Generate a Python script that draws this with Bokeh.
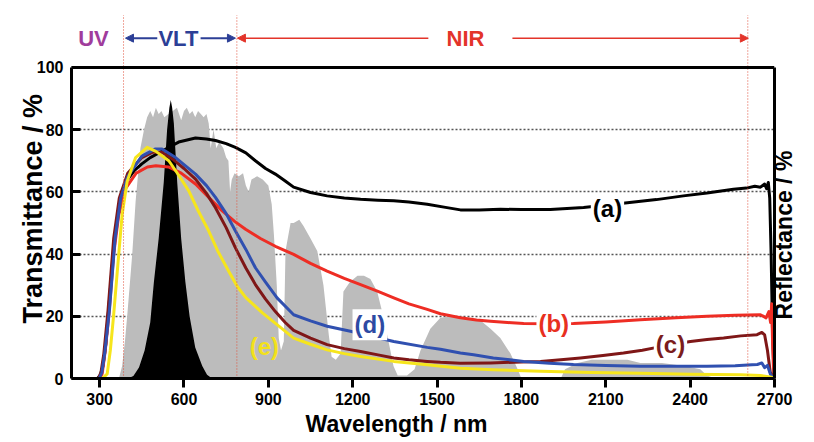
import math

from bokeh.plotting import figure
from bokeh.models import (Range1d, FixedTicker, Label, Arrow, NormalHead, Span,
                          LinearAxis)
from bokeh.embed import file_html
from bokeh.resources import INLINE

# ---- data -------------------------------------------------------------
# Solar irradiance (scaled, grey background)
solar_nm = [200, 350, 370, 380, 390, 398, 407, 416, 428, 445, 458, 469, 480, 490,
            500, 510, 520, 530, 545, 560, 575, 590, 600, 610, 620, 630, 640, 650,
            660, 670, 680, 688, 695, 705, 715, 725, 740, 750, 758, 764, 770, 780,
            795, 810, 820, 830, 840, 860, 880, 900, 912, 920, 930, 937, 945, 955,
            961, 979, 990, 1010, 1025, 1050, 1074, 1096, 1115, 1125, 1140, 1157,
            1167, 1190, 1217, 1240, 1263, 1287, 1310, 1334, 1345, 1360, 1393, 1420,
            1441, 1476, 1512, 1550, 1600, 1650, 1690, 1725, 1761, 1785, 1800, 1940,
            1955, 2000, 2050, 2100, 2177, 2223, 2300, 2380, 2436, 2460, 2490, 2700]
solar = [0, 0, 0.5, 4, 12, 20, 30, 40, 57, 74, 80, 84, 86, 84,
         87, 85, 86, 84, 85, 86, 87, 83, 86, 87, 85, 86, 84, 86,
         85, 84, 85, 82, 74, 80, 74, 76, 74, 71, 70, 60, 64, 66,
         65, 66, 62, 60, 64, 65, 64, 62, 56, 46, 30, 13, 9, 12,
         41, 50, 50, 51, 49, 45, 41, 30, 14, 7, 6, 8,
         28, 31, 33, 33, 32, 28, 19.5, 9, 4, 1, 1, 3,
         9, 16, 19.5, 20, 19.5, 19, 16, 13, 8, 3.3, 0, 0,
         3, 5, 6, 6, 6, 5, 5, 4, 3, 1, 0, 0]

# Photopic eye sensitivity (scaled, black peak)
vis_nm = [400, 420, 440, 460, 480, 493, 510, 528, 540, 548, 553, 558, 564,
          576, 590, 605, 620, 640, 665, 682, 700]
vis = [0, 0.8, 3.5, 9, 18, 31, 45, 63, 80, 87, 89.5, 87, 82,
       63, 45, 31, 20, 10, 4, 1.2, 0]

# (a)
a_nm = [200, 292, 302, 312, 322, 332, 342, 352, 362, 372, 385, 400, 425, 450,
        480, 510, 550, 581, 641, 680, 712, 750, 783, 820, 854, 890, 925, 960,
        990, 1050, 1109, 1170, 1228, 1290, 1346, 1400, 1465, 1530, 1583, 1650,
        1725, 1800, 1903, 2021, 2177, 2280, 2376, 2460, 2554, 2600, 2630, 2650,
        2665, 2672, 2678, 2683, 2688, 2693, 2698, 2700]
a_t = [0, 0, 1, 4, 11, 22, 33, 43, 51, 57, 61, 64, 67, 69,
       71, 72.5, 74.5, 76, 77.3, 77, 76.5, 75.5, 74.3, 72.5, 70, 67.5, 65.7, 63.5,
       61.5, 59.8, 58.7, 58, 57.6, 57.3, 57.1, 56.7, 56, 55, 54.2, 54.2,
       54.4, 54.3, 54.3, 55, 56.5, 57.5, 58.7, 59.6, 60.8, 61.2, 61.8, 61.5,
       62.5, 61, 63, 58, 40, 15, 2, 0]

# (b)
b_nm = [200, 300, 309, 320, 333, 350, 368, 392, 430, 470, 500, 545, 590, 641,
        690, 736, 780, 819, 872, 925, 990, 1050, 1109, 1170, 1228, 1290, 1346,
        1400, 1465, 1512, 1583, 1640, 1690, 1750, 1808, 1900, 1985, 2100, 2223,
        2350, 2460, 2560, 2650, 2670, 2680, 2686, 2690, 2693, 2696, 2700]
b_t = [0, 0, 1.5, 9, 20.5, 40, 52.6, 61, 66, 68, 68.4, 68, 66, 62.5,
       58, 53.9, 50.5, 48, 45, 42.5, 39.9, 37, 34.5, 32.2, 30.2, 28, 25.9,
       24, 22.2, 20.8, 19.5, 18.8, 18.4, 18, 17.7, 17.6, 17.7, 18.2, 18.9,
       19.5, 20, 20.3, 20.5, 19.5, 21.5, 18, 24, 12, 4, 0]

# (c)
c_nm = [200, 295, 305, 315, 330, 350, 370, 400, 450, 487, 522, 560, 600, 641,
        680, 712, 750, 783, 820, 854, 890, 925, 960, 990, 1050, 1109, 1170,
        1228, 1290, 1346, 1400, 1465, 1512, 1583, 1690, 1800, 1868, 1950, 2010,
        2090, 2163, 2230, 2282, 2340, 2401, 2460, 2519, 2580, 2638, 2655, 2665,
        2675, 2685, 2700]
c_t = [0, 0, 2, 8, 22, 45, 58, 66, 71, 72.7, 72.7, 70.5, 67.5, 64.1,
       59.5, 54.9, 48.5, 42, 35.5, 30.2, 25.5, 21.5, 18, 15.5, 13, 10.9, 9.6,
       8.7, 7.6, 6.6, 6, 5.5, 5.2, 4.9, 5, 5.3, 5.5, 6.1, 6.6,
       7.4, 8.2, 9.1, 10, 11, 11.9, 12.5, 13, 13.7, 14.1, 14.8, 14,
       9, 2, 0]

# (d)
d_nm = [200, 298, 308, 318, 335, 355, 375, 400, 450, 499, 522, 570, 641, 680,
        712, 750, 783, 820, 854, 890, 931, 990, 1050, 1109, 1192, 1270, 1346,
        1465, 1512, 1583, 1630, 1700, 1808, 1900, 1985, 2100, 2223, 2350, 2460,
        2560, 2620, 2639, 2655, 2665, 2675, 2685, 2692, 2700]
d_t = [0, 0, 2, 8, 22, 45, 58, 65, 71.5, 73.8, 73.8, 71, 65.7, 62,
       58.2, 53, 47.4, 41.5, 35.6, 31, 25.9, 20.5, 18.5, 16.8, 15.2, 13.5, 11.9,
       10, 9.4, 8.2, 7.6, 6.6, 5.5, 4.9, 4.5, 4.2, 3.9, 3.9, 3.9,
       4.1, 4.4, 4.5, 5, 3.5, 4.2, 1.5, 0.5, 0]

# (e)
e_nm = [200, 310, 327, 338, 350, 368, 380, 398, 428, 469, 500, 546, 580, 617,
        650, 688, 720, 759, 790, 820, 850, 880, 931, 990, 1050, 1109, 1170,
        1228, 1346, 1465, 1583, 1700, 1868, 2050, 2223, 2400, 2580, 2650, 2690, 2700]
e_t = [0, 0, 1.5, 9, 20.5, 40, 52.6, 63.4, 71, 74.3, 73, 70, 65.5, 60.3,
       54, 47.4, 41, 34.5, 29.5, 26, 23.5, 21, 17.3, 13, 11, 9.2, 8,
       7.1, 5.5, 4.4, 3.3, 2.8, 2.3, 1.9, 1.7, 1.4, 1.2, 1, 0.4, 0]

x_ticks = [300, 600, 900, 1200, 1500, 1800, 2100, 2400, 2700]
y_ticks = [0, 20, 40, 60, 80, 100]
grid_levels = [20, 40, 60, 80]
region_bounds = [385, 788, 2605]
region_names = ["UV", "VLT", "NIR"]
region_name_x = [278, 580, 1601]

# ---- figure -----------------------------------------------------------
FONT = "Liberation Sans"
Y_TOP = 121.5      # room above the 0-100 box for the region annotations
ANNOT_Y = 109.4    # height of the region names / arrows
BOUND_TOP = 116.8  # upper end of the dotted region boundaries

p = figure(width=814, height=442, output_backend="svg", toolbar_location=None,
           x_range=Range1d(200, 2700), y_range=Range1d(0, Y_TOP),
           min_border_left=71, min_border_right=40, min_border_top=0,
           min_border_bottom=64)
p.background_fill_color = "white"
p.border_fill_color = "white"
p.outline_line_color = None

p.xgrid.visible = False
p.ygrid.ticker = FixedTicker(ticks=grid_levels)
p.ygrid.grid_line_color = "#555555"
p.ygrid.grid_line_dash = "2 2"
p.ygrid.grid_line_width = 1.3

for ax in (p.xaxis[0], p.yaxis[0]):
    ax.axis_line_width = 3
    ax.axis_line_color = "black"
    ax.major_tick_line_width = 3
    ax.major_tick_line_color = "black"
    ax.minor_tick_line_color = None
    ax.major_label_text_font = FONT
    ax.major_label_text_font_style = "bold"
    ax.major_label_text_font_size = "16px"
    ax.major_label_text_color = "black"

p.xaxis.ticker = FixedTicker(ticks=x_ticks)
p.xaxis.major_tick_out = 9
p.xaxis.major_tick_in = 0
p.xaxis.major_label_standoff = 5

p.yaxis.ticker = FixedTicker(ticks=y_ticks)
p.yaxis.bounds = (0, 100)
p.yaxis.major_tick_in = 9
p.yaxis.major_tick_out = 0
p.yaxis.major_label_standoff = 8


def title_axis(text, at, size, standoff, orientation, line=False):
    """An axis that carries only one text, placed at a chosen data value."""
    return LinearAxis(bounds=(0, 100) if line else "auto",
                      ticker=FixedTicker(ticks=[at]),
                      major_label_overrides={at: text},
                      major_label_orientation=orientation,
                      major_tick_in=0, major_tick_out=0,
                      major_tick_line_color=None, minor_tick_line_color=None,
                      axis_line_width=3,
                      axis_line_color="black" if line else None,
                      major_label_standoff=standoff,
                      major_label_text_font=FONT,
                      major_label_text_font_style="bold",
                      major_label_text_font_size=size,
                      major_label_text_color="black")


# axis titles
p.add_layout(title_axis("Transmittance / %", 15, "27px", 0, math.pi / 2), "left")
p.add_layout(title_axis("Wavelength / nm", 1356, "23px", 3, "horizontal"), "below")
# right edge of the box, carrying the reflectance title
p.add_layout(title_axis("Reflectance / %", 19, "23px", 10, math.pi / 2, line=True),
             "right")

# top edge of the box
p.add_layout(Span(location=100, dimension="width", line_color="black",
                  line_width=3))

# grey solar spectrum and black eye-sensitivity peak
p.varea(x=solar_nm, y1=0, y2=solar, fill_color="#bcbcbc")
p.varea(x=vis_nm, y1=0, y2=vis, fill_color="black")

curves = [
    (a_nm, a_t, "black"),
    (b_nm, b_t, "#ee2d24"),
    (c_nm, c_t, "#7f1717"),
    (d_nm, d_t, "#3050b0"),
    (e_nm, e_t, "#f6e51c"),
]
for xs, ys, col in curves:
    p.line(xs, ys, line_color=col, line_width=3, line_join="round")

# dotted region boundaries, running up into the annotation strip
p.segment(x0=region_bounds, y0=[0] * 3, x1=region_bounds, y1=[BOUND_TOP] * 3,
          line_color="#e0503c", line_width=1, line_dash="1 2")

# curve tags
tags = [
    ("(a)", 2106, 54.5, "black", True),
    ("(b)", 1915, 17.8, "#e8301f", True),
    ("(c)", 2330, 10.9, "#7b1c1c", True),
    ("(d)", 1261, 17.3, "#2d4aa3", True),
    ("(e)", 886, 10.3, "#f3e11b", False),
]
for txt, x, y, col, boxed in tags:
    lab = Label(x=x, y=y, text=txt, text_color=col, text_font=FONT,
                text_font_style="bold", text_font_size="24px",
                text_align="center", text_baseline="middle")
    if boxed:
        lab.background_fill_color = "white"
        lab.padding = 2
    p.add_layout(lab)

# region names and arrows above the box
name_colors = ["#a03c9c", "#2c3f96", "#e3342a"]
for name, x, col in zip(region_names, region_name_x, name_colors):
    p.add_layout(Label(x=x, y=ANNOT_Y, text=name, text_color=col, text_font=FONT,
                       text_font_style="bold", text_font_size="22px",
                       text_align="center", text_baseline="middle"))


def head(col):
    return NormalHead(size=8, fill_color=col, line_color=col)


for x0, x1, col, w in [(505, 392, "#2c3f96", 2), (659, 783, "#2c3f96", 2),
                       (1469, 790, "#e3342a", 1.5), (1768, 2607, "#e3342a", 1.5)]:
    p.add_layout(Arrow(end=head(col), x_start=x0, y_start=ANNOT_Y, x_end=x1,
                       y_end=ANNOT_Y, line_color=col, line_width=w))

open("out.html", "w").write(file_html(p, INLINE))
